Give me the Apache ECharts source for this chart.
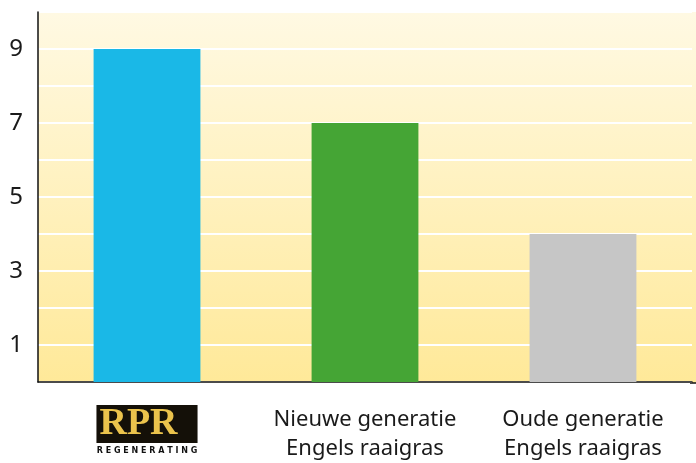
<!DOCTYPE html>
<html>
<head>
<meta charset="utf-8">
<title>Raaigras</title>
<script src="https://cdn.jsdelivr.net/npm/echarts@6/dist/echarts.min.js"></script>
<style>
  html, body { margin: 0; padding: 0; background: #fff; }
  #main { width: 696px; height: 463px; }
</style>
</head>
<body>
<div id="main"></div>
<script>
// data
var categories = ['RPR', 'Nieuwe generatie\nEngels raaigras', 'Oude generatie\nEngels raaigras'];
var values = [9, 7, 4];
var barColors = ['#1ab8e7', '#45a535', '#c6c6c6'];
var yTicks = [1, 3, 5, 7, 9];

var chart = echarts.init(document.getElementById('main'));

var bgFill = function () {
  return new echarts.graphic.LinearGradient(0, 0, 0, 1, [
    { offset: 0, color: '#fff9e3' },
    { offset: 1, color: '#ffe999' }
  ]);
};

chart.setOption({
  animation: false,
  grid: {
    left: 38, right: 4, top: 12, bottom: 80,
    show: true,
    borderWidth: 0,
    backgroundColor: bgFill()
  },
  // background strip + axis to the right edge of the window
  graphic: [{
    type: 'rect',
    right: 0, top: 12,
    shape: { width: 4, height: 371 },
    style: { fill: bgFill() },
    z: -1
  }, {
    type: 'line',
    shape: { x1: 690, y1: 383, x2: 696, y2: 383 },
    style: { stroke: '#111', lineWidth: 1.5 }
  }],
  xAxis: {
    type: 'category',
    data: categories,
    axisLine: { lineStyle: { color: '#111', width: 1.5 } },
    axisTick: { show: false },
    axisLabel: {
      interval: 0,
      margin: 23,
      fontFamily: 'Noto Sans',
      fontSize: 22,
      lineHeight: 29,
      color: '#1a1a1a',
      formatter: function (v, i) {
        if (i === 0) return '{logo|RPR}\n{reg|R E G E N E R A T I N G}';
        return v;
      },
      rich: {
        logo: {
          fontFamily: 'Liberation Serif',
          fontWeight: 'bold',
          fontSize: 38,
          lineHeight: 38,
          color: '#ebc34c',
          backgroundColor: '#141008',
          padding: [0, 20, 0, 3]
        },
        reg: {
          fontFamily: 'DejaVu Sans',
          fontWeight: 'bold',
          fontSize: 8,
          lineHeight: 16,
          color: '#111'
        }
      }
    }
  },
  yAxis: {
    type: 'value',
    min: 0,
    max: 10,
    interval: 1,
    axisLine: { show: true, lineStyle: { color: '#111', width: 1.5 } },
    axisTick: { show: false },
    splitLine: { lineStyle: { color: '#ffffff', width: 2 } },
    axisLabel: {
      margin: 15,
      fontFamily: 'Noto Sans',
      fontSize: 24,
      color: '#1a1a1a',
      formatter: function (v) { return yTicks.indexOf(v) >= 0 ? String(v) : ''; }
    }
  },
  series: [{
    type: 'bar',
    barWidth: '49%',
    data: values.map(function (v, i) {
      return { value: v, itemStyle: { color: barColors[i] } };
    })
  }]
});
</script>
</body>
</html>
